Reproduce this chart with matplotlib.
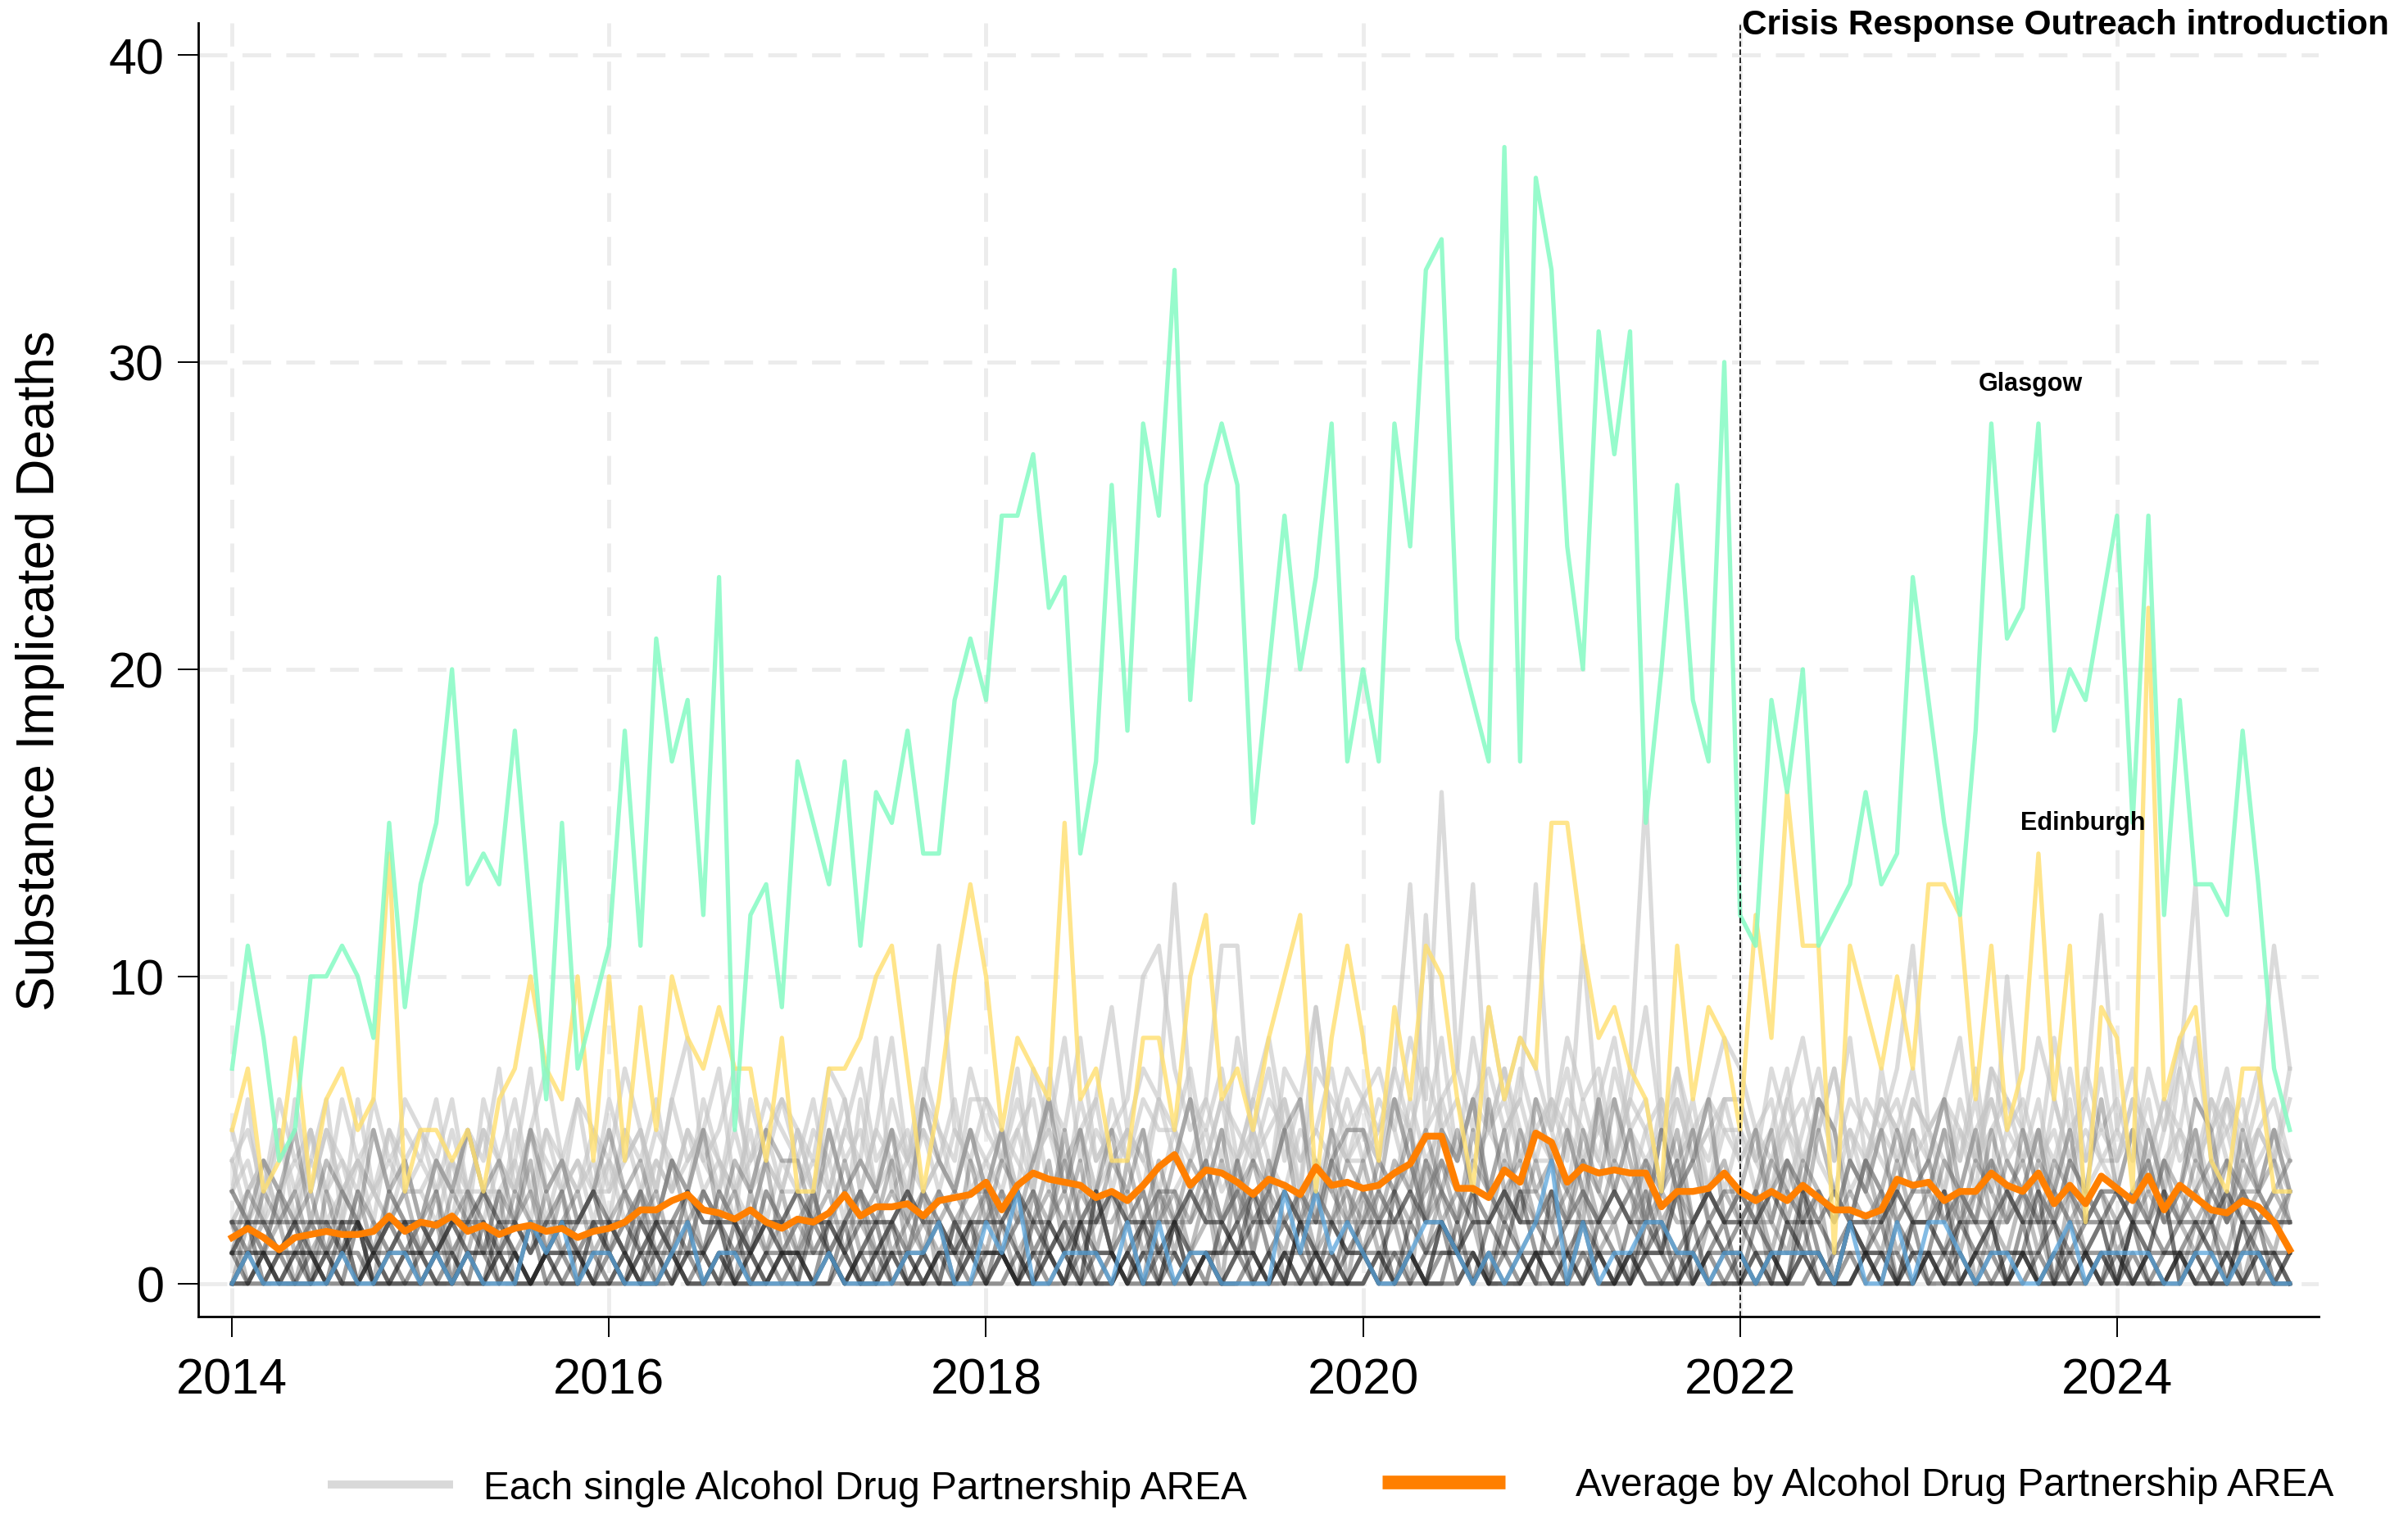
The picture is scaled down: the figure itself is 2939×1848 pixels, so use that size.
import matplotlib.pyplot as plt
from matplotlib.lines import Line2D
import numpy as np
import pandas as pd

plt.rcParams['font.family'] = ['Liberation Sans', 'DejaVu Sans']

# Months Jan 2014 .. Dec 2024
months = pd.date_range('2014-01-01', periods=132, freq='MS')
x = months.year + (months.month - 1) / 12

glasgow = [7, 11, 8, 4, 5, 10, 10, 11, 10, 8, 15, 9,
           13, 15, 20, 13, 14, 13, 18, 12, 6, 15, 7, 9,
           11, 18, 11, 21, 17, 19, 12, 23, 5, 12, 13, 9,
           17, 15, 13, 17, 11, 16, 15, 18, 14, 14, 19, 21,
           19, 25, 25, 27, 22, 23, 14, 17, 26, 18, 28, 25,
           33, 19, 26, 28, 26, 15, 20, 25, 20, 23, 28, 17,
           20, 17, 28, 24, 33, 34, 21, 19, 17, 37, 17, 36,
           33, 24, 20, 31, 27, 31, 15, 20, 26, 19, 17, 30,
           12, 11, 19, 16, 20, 11, 12, 13, 16, 13, 14, 23,
           19, 15, 12, 18, 28, 21, 22, 28, 18, 20, 19, 22,
           25, 15, 25, 12, 19, 13, 13, 12, 18, 13, 7, 5]

edinburgh = [5, 7, 3, 4, 8, 3, 6, 7, 5, 6, 14, 3,
             5, 5, 4, 5, 3, 6, 7, 10, 7, 6, 10, 4,
             10, 4, 9, 5, 10, 8, 7, 9, 7, 7, 4, 8,
             3, 3, 7, 7, 8, 10, 11, 7, 3, 6, 10, 13,
             10, 5, 8, 7, 6, 15, 6, 7, 4, 4, 8, 8,
             5, 10, 12, 6, 7, 5, 8, 10, 12, 3, 8, 11,
             8, 4, 9, 6, 11, 10, 6, 3, 9, 6, 8, 7,
             15, 15, 11, 8, 9, 7, 6, 3, 11, 6, 9, 8,
             5, 12, 8, 16, 11, 11, 1, 11, 9, 7, 10, 7,
             13, 13, 12, 6, 11, 5, 7, 14, 6, 11, 2, 9,
             8, 3, 22, 6, 8, 9, 4, 3, 7, 7, 3, 3]

blue_adp = [0, 1, 0, 0, 0, 0, 0, 1, 0, 0, 1, 1,
            0, 1, 0, 1, 0, 0, 0, 2, 1, 2, 0, 1,
            1, 0, 0, 0, 1, 2, 0, 1, 1, 0, 0, 0,
            0, 0, 1, 0, 0, 0, 0, 1, 1, 2, 0, 0,
            2, 1, 3, 0, 0, 1, 1, 1, 0, 2, 0, 2,
            0, 1, 1, 0, 0, 0, 0, 3, 1, 3, 1, 2,
            1, 0, 0, 1, 2, 2, 1, 0, 1, 0, 1, 2,
            4, 0, 2, 0, 1, 1, 2, 2, 1, 1, 0, 1,
            1, 0, 1, 1, 1, 1, 0, 2, 0, 0, 2, 0,
            2, 2, 1, 0, 1, 1, 0, 0, 1, 2, 0, 1,
            1, 1, 1, 0, 0, 1, 1, 0, 1, 1, 0, 0]

average = [1.5, 1.8, 1.5, 1.1, 1.5, 1.6, 1.7, 1.6, 1.6, 1.7, 2.2, 1.7,
           2.0, 1.9, 2.2, 1.7, 1.9, 1.6, 1.8, 1.9, 1.7, 1.8, 1.5, 1.7,
           1.8, 2.0, 2.4, 2.4, 2.7, 2.9, 2.4, 2.3, 2.1, 2.4, 2.0, 1.8,
           2.1, 2.0, 2.3, 2.9, 2.2, 2.5, 2.5, 2.6, 2.2, 2.7, 2.8, 2.9,
           3.3, 2.4, 3.2, 3.6, 3.4, 3.3, 3.2, 2.8, 3.0, 2.7, 3.2, 3.8,
           4.2, 3.2, 3.7, 3.6, 3.3, 2.9, 3.4, 3.2, 2.9, 3.8, 3.2, 3.3,
           3.1, 3.2, 3.6, 3.9, 4.8, 4.8, 3.1, 3.1, 2.8, 3.7, 3.3, 4.9,
           4.6, 3.3, 3.8, 3.6, 3.7, 3.6, 3.6, 2.5, 3.0, 3.0, 3.1, 3.6,
           3.0, 2.7, 3.0, 2.7, 3.2, 2.8, 2.4, 2.4, 2.2, 2.4, 3.4, 3.2,
           3.3, 2.7, 3.0, 3.0, 3.6, 3.2, 3.0, 3.6, 2.6, 3.2, 2.6, 3.5,
           3.1, 2.7, 3.5, 2.4, 3.2, 2.8, 2.4, 2.3, 2.7, 2.5, 2.0, 1.1]

# other ADP areas, one character per month (base 36: a=10, b=11, ...)
large_adps = [
    "534263543645 463547354365 475368457356 547635846b54 653758469576 d65746853765 67586g759687 586746957468 75468574657b 568476586475 6475865746b7",
    "342534624354 534264357435 354634573465 463574536547 5473658456ab 756485376954 657d5846756d 574685637546 645736584657 46537564856c 574658465746",
    "234325342343 342533425342 423543643524 354263453463 435634536453 546bb4563954 4653c5465475 64b546536456 453645743564 536456453745 46357d456354",
    "423524326324 243352473423 345243542643 534635435435 354364534536 463545364574 5464567d5645 453647g54635 534564354654 35463a545364 546354653453",
    "362343534253 435324352434 253435435346 435348345354 346453645465 534654654546 456575645754 654563564565 456357465436 543564536454 354645364564",
    "234235234323 324332532343 432435343243 343543543435 453454354543 345346435435 543645463564 465435456453 543546534545 435464354634 453453643543",
    "453645364536 546354635463 645364536453 536453647536 645374563546 574635746357 647536485746 536475364536 647536453746 564735463547 465374563547",
]
medium_adps = [
    "213202132123 120321241231 231242132132 312423123214 243125231423 324231423252 423524326324 253243253423 324325324235 243253423523 325324325342",
    "132120213121 213213212312 122312321241 231232412322 312324235231 243242352324 324353243253 432632435234 235243243523 352432532432 234235243234",
    "021312120212 122131213122 213122132213 122312321321 231241322312 312423213243 243234253232 324323423523 232432324323 423243243232 232423423323",
    "322123122132 231221321223 123213223122 223132231232 132232413224 234234232432 323423532433 234235234232 323423243242 232342324323 324232342322",
    "121231212121 212312122123 132121321221 212231213212 223123123123 132232321322 232313232342 323232313232 231323232132 323213232323 232321323232",
    "212112213212 121221231212 212213122132 131221232123 312312231231 223123223123 132242322322 223223132232 322132322312 231322313223 123223213221",
    "324352432534 243534253423 534243524354 425343526435 352463524352 463524356245 536425463526 425364253462 352436524353 463524352436 352436524353",
    "201320312032 130213021302 213021320312 031230213021 320312031203 213041302140 312043120312 203120314021 130213021302 213021320312 021302130213",
]
small_adps = [
    "101011020101 011020101102 102101102011 021012011021 110210210120 201120121021 120212102131 012102120121 210211021201 102120112012 021012102110",
    "010010100100 100101001010 001010010010 100100101001 010010100100 101001010010 010100201001 100101001010 001010010100 100100100101 010010010010",
    "111111110111 110111101111 101111011101 111011110111 110112111011 101111011110 111011110111 111101111101 011110111110 110111101111 101111011111",
    "222222222122 212232212223 221223222122 322122232212 223221223222 232212232221 222322122322 122232221232 223222122232 212223222122 322122232222",
    "001000100010 010001001000 100010010001 001001000100 010010001001 001000100100 100100010010 001001000100 010001001000 100010010001 001001000100",
    "120121012012 012102101210 210210120121 102101201201 021021031021 210213102102 103102130210 310210213012 021031021021 130120130210 201301201201",
    "011001011001 100110100110 010101101001 101010010110 110101011010 011011010101 101101101101 010110110011 101011001101 011001101010 100110110101",
    "000100002000 001000020001 010002000100 000200100002 001000200100 200010002000 010002010001 002000100200 100020001002 001000200010 020010002000",
]


def decode(s):
    return [int(c, 36) for c in s.replace(" ", "")]


fig = plt.figure(figsize=(29.39, 18.49), dpi=100)
ax = fig.add_axes([0.0823, 0.1304, 0.8806, 0.8539])

for s in large_adps:
    ax.plot(x, decode(s), color='#c4c4c4', lw=3.8, alpha=0.6, zorder=2)
for s in medium_adps:
    ax.plot(x, decode(s), color='#6e6e6e', lw=3.8, alpha=0.45, zorder=2)
for s in small_adps:
    ax.plot(x, decode(s), color='#222222', lw=3.8, alpha=0.45, zorder=2)

ax.plot(x, blue_adp, color='#5aa5dc', lw=3.8, alpha=0.75, zorder=3)
ax.plot(x, edinburgh, color='#ffdf6e', lw=3.8, alpha=0.8, zorder=3)
ax.plot(x, glasgow, color='#85fbc3', lw=3.8, alpha=0.85, zorder=3)
ax.plot(x, average, color='#ff7f00', lw=6, zorder=5)

ax.axvline(2022, color='black', lw=1.2, ls=(0, (4, 2)), zorder=6)
ax.text(2022.01, 41.0, 'Crisis Response Outreach introduction', fontsize=30.5,
        fontweight='bold', ha='left', va='center', clip_on=False)
ax.text(2023.54, 29.3, 'Glasgow', fontsize=22, fontweight='bold', ha='center', va='center')
ax.text(2023.82, 15.0, 'Edinburgh', fontsize=22, fontweight='bold', ha='center', va='center')

ax.set_xlim(2013.82, 2025.07)
ax.set_ylim(-1.07, 41.04)
ax.set_xticks([2014, 2016, 2018, 2020, 2022, 2024])
ax.set_yticks([0, 10, 20, 30, 40])
ax.grid(True, color='#ececec', lw=3.5, dashes=(7.2, 3.8), zorder=0)
ax.set_axisbelow(True)
for side in ['top', 'right']:
    ax.spines[side].set_visible(False)
for side in ['left', 'bottom']:
    ax.spines[side].set_linewidth(2)
ax.tick_params(axis='both', labelsize=44, length=18, width=1.4)
ax.tick_params(axis='y', pad=12)
ax.tick_params(axis='x', pad=18)
ax.set_ylabel('Substance Implicated Deaths', fontsize=46)
ax.yaxis.set_label_coords(-0.063, 0.5)

# legend: two entries placed separately along the bottom
leg1 = fig.legend([Line2D([], [], color='#d9d9d9', lw=7, solid_capstyle='butt')],
                  ['Each single Alcohol Drug Partnership AREA'],
                  loc='center left', bbox_to_anchor=(0.1361, 0.017), frameon=False,
                  fontsize=34.5, handlelength=3.19, handletextpad=0.77,
                  borderpad=0, borderaxespad=0)
leg2 = fig.legend([Line2D([], [], color='#ff7f00', lw=12, solid_capstyle='butt')],
                  ['Average by Alcohol Drug Partnership AREA'],
                  loc='center left', bbox_to_anchor=(0.574, 0.019), frameon=False,
                  fontsize=34.5, handlelength=3.13, handletextpad=1.8,
                  borderpad=0, borderaxespad=0)

fig.savefig('out.png', dpi=100)
